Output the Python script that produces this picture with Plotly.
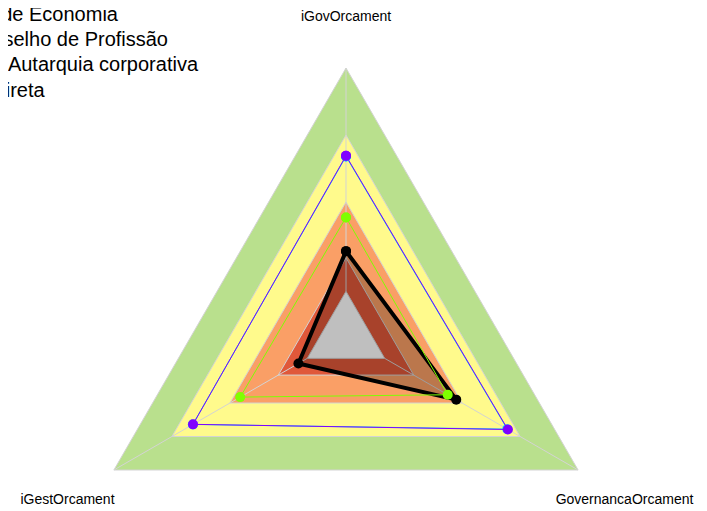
import numpy as np
import plotly.graph_objects as go

# radar de capacidade em orcamento; escala 0-1 com furo central (estilo fmsb)
axes = ["iGovOrcament", "iGestOrcament", "GovernancaOrcament"]

# faixas do TCU: aprimorado, intermediario, iniciando, inexpressivo, centro
band_limits = [1.0, 0.7, 0.4, 0.15, 0.0]
band_colors = ["#B9E08D", "#FFFA8C", "#FA9F66", "#E0583A", "#FFFFFF"]

series_names = ["CR de Economia", "Conselho de Profissão",
                "Nat. Autarquia corporativa", "\u00a0\u00a0Indireta"]
series_colors = ["#000000", "#7FFF00", "#00D8FF", "#8000FF"]
economia = [0.18, 0.046, 0.37]
conselho = [0.331, 0.347, 0.326]
autarquia = [0.604, 0.592, 0.634]
indireta = [0.607, 0.591, 0.637]
series_values = [economia, conselho, autarquia, indireta]

# eixos a 90, 210 e 330 graus; raio = (v + 0.2) / 1.2, como no fmsb (seg=5)
angles = np.deg2rad(90 + 120 * np.arange(len(axes)))


def to_xy(vals, closed=True):
    rad = (np.asarray(vals, dtype=float) + 0.2) / 1.2
    x, y = rad * np.cos(angles), rad * np.sin(angles)
    if closed:
        x, y = np.append(x, x[0]), np.append(y, y[0])
    return x, y


fig = go.Figure()

for lim, col in zip(band_limits, band_colors):
    x, y = to_xy([lim] * len(axes))
    fig.add_trace(go.Scatter(
        x=x, y=y, mode="lines", fill="toself", fillcolor=col,
        line=dict(color="#D3D3D3", width=1),
        showlegend=False, hoverinfo="skip"))

# eixos radiais (por cima das faixas)
x0, y0 = to_xy([band_limits[-1]] * len(axes), closed=False)
x1, y1 = to_xy([band_limits[0]] * len(axes), closed=False)
sx, sy = [], []
for i in range(len(axes)):
    sx += [x0[i], x1[i], None]
    sy += [y0[i], y1[i], None]
fig.add_trace(go.Scatter(
    x=sx, y=sy, mode="lines", line=dict(color="#D3D3D3", width=1),
    showlegend=False, hoverinfo="skip"))

for name, col, vals in zip(series_names, series_colors, series_values):
    thick = col == "#000000"
    x, y = to_xy(vals)
    fig.add_trace(go.Scatter(
        x=x, y=y, mode="lines+markers",
        name=f'<span style="font-size:20px">{name}</span>',
        fill="toself" if thick else "none",
        fillcolor="rgba(0,0,0,0.25)",
        line=dict(color=col, width=4 if thick else 1),
        marker=dict(color=col, size=10)))

# rotulos dos eixos a 1.2 do raio maximo (um pouco abaixo, como o texto do R)
lx, ly = 1.2 * np.cos(angles), 1.2 * np.sin(angles) - 0.013
fig.add_trace(go.Scatter(
    x=lx, y=ly, mode="text", text=axes, textposition="middle center",
    cliponaxis=False,
    textfont=dict(size=14, color="#000000", family="Liberation Sans, Arial"),
    showlegend=False, hoverinfo="skip"))

fig.update_layout(
    width=707, height=511,
    margin=dict(l=0, r=0, t=0, b=0, autoexpand=False),
    paper_bgcolor="white", plot_bgcolor="white",
    font=dict(family="Liberation Sans, Arial", color="#000000"),
    xaxis=dict(range=[-1.2612, 1.3769], visible=False, fixedrange=True),
    yaxis=dict(range=[-0.6828, 1.2239], visible=False, fixedrange=True),
    legend=dict(x=-0.1149, xanchor="left", y=1.0215, yanchor="top",
                font=dict(size=17, color="#000000"),
                bgcolor="rgba(0,0,0,0)"),
)

fig.write_html("out.html")
